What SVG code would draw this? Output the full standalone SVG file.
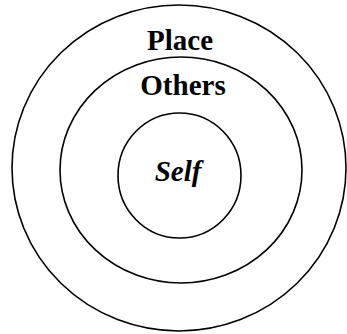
<svg xmlns="http://www.w3.org/2000/svg" width="347" height="334" viewBox="0 0 347 334">
<style>
.ring{fill:none;stroke:#000;stroke-width:1.6}
.lbl{font-family:"Liberation Serif","Times New Roman",serif;font-weight:bold;font-size:29px;fill:#000;text-anchor:middle}
</style>
<rect width="347" height="334" fill="#fff"/>
<g id="place"><ellipse class="ring" cx="179" cy="168" rx="167" ry="163"/><text class="lbl" x="180" y="50">Place</text></g>
<g id="others"><ellipse class="ring" cx="181" cy="170" rx="121" ry="113"/><text class="lbl" x="183" y="95">Others</text></g>
<g id="self"><ellipse class="ring" cx="179.5" cy="175.5" rx="61.5" ry="62.5"/><text class="lbl" x="178" y="181" font-style="italic">Self</text></g>
<g id="connectors"/>
</svg>
